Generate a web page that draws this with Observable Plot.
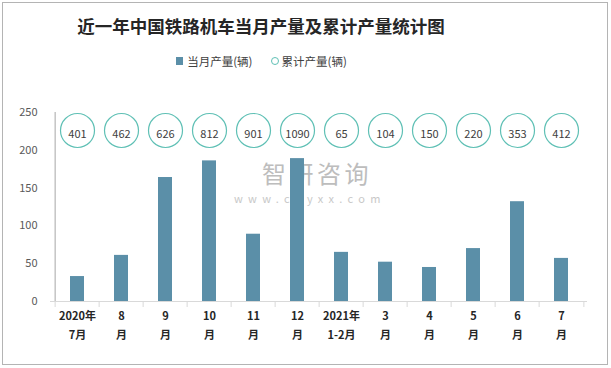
<!DOCTYPE html>
<html><head><meta charset="utf-8">
<script src="https://cdn.jsdelivr.net/npm/d3@7"></script>
<script src="https://cdn.jsdelivr.net/npm/@observablehq/plot@0.6"></script>
<style>
body{margin:0;background:#fff;font-family:"Noto Sans CJK SC","Noto Sans",sans-serif;}
#wrap{position:relative;width:611px;height:368px;overflow:hidden;background:#fff;}
#border{position:absolute;left:2px;top:2px;width:604px;height:361px;border:1px solid #b4b4b4;}
#title{position:absolute;left:0;width:522px;top:13px;text-align:center;font-size:17.5px;font-weight:bold;color:#262626;line-height:26px;white-space:nowrap;}
#legend{position:absolute;left:0;width:523px;top:52px;display:flex;justify-content:center;align-items:center;font-size:11.5px;color:#404040;line-height:18px;}
.sw{display:inline-block;width:7px;height:8px;background:#5b8fa8;margin-right:4px;}
.cw{display:inline-block;width:6px;height:6px;border:1.2px solid #5fc0b5;border-radius:50%;margin-right:3px;margin-left:18px;}
#chart{position:absolute;left:0;top:75px;}
#wm{position:absolute;left:262px;top:162px;color:#bdbdbd;font-size:24px;letter-spacing:3.5px;line-height:22px;}
#wm2{position:absolute;left:234px;top:193px;color:#c8c8c8;font-size:11px;letter-spacing:5.3px;line-height:11px;}
</style></head>
<body>
<div id="wrap">
<div id="border"></div>
<div id="title">近一年中国铁路机车当月产量及累计产量统计图</div>
<div id="legend"><span class="sw"></span><span>当月产量(辆)</span><span class="cw"></span><span>累计产量(辆)</span></div>
<div id="wm">智研咨询</div>
<div id="wm2">www.chyxx.com</div>
<div id="chart"></div>
</div>
<script>
const months = ["2020年\n7月","8\n月","9\n月","10\n月","11\n月","12\n月","2021年\n1-2月","3\n月","4\n月","5\n月","6\n月","7\n月"];
const monthly = [33,61,164,186,89,189,65,52,45,70,132,57];
const cumulative = [401,462,626,812,901,1090,65,104,150,220,353,412];
const yTicks = [0,50,100,150,200,250];

const data = months.map((m,i)=>({month:m, monthly:monthly[i], cumulative:cumulative[i]}));
const W = 611, H = 293, mL = 50, mR = 24;
const bw = (W - mL - mR) / months.length;
const font = '"Noto Sans CJK SC","Noto Sans",sans-serif';

const chart = Plot.plot({
  width: W, height: H,
  marginLeft: mL, marginRight: mR, marginTop: 37, marginBottom: 67,
  style: {fontFamily: font, background: "transparent"},
  x: {domain: months, paddingInner: 0.687, paddingOuter: 0.3435, axis: null},
  y: {domain: [0,250], ticks: yTicks, axis: null},
  marks: [
    Plot.axisY({ticks: yTicks, tickSize: 0, tickPadding: 13, fontSize: 11, color: "#595959", label: null}),
    Plot.barY(data, {x: "month", y: "monthly", fill: "#5b8fa8"}),
    Plot.ruleY([0], {stroke: "#d9d9d9", strokeWidth: 1}),
    Plot.ruleX(data, {x: "month", y1: 0, y2: 0, insetBottom: -6, dx: -bw/2, stroke: "#d9d9d9"}),
    Plot.ruleX(data.slice(-1), {x: "month", y1: 0, y2: 0, insetBottom: -6, dx: bw/2, stroke: "#d9d9d9"}),
    Plot.ruleX(data.slice(0,1), {x: "month", y1: 0, y2: 250, dx: -bw/2, stroke: "#a6a6a6"}),
    Plot.dot(data, {x: "month", frameAnchor: "top", dy: 18, r: 17, fill: "white", stroke: "#5fc0b5", strokeWidth: 1.2}),
    Plot.text(data, {x: "month", frameAnchor: "top", dy: 18, text: d => String(d.cumulative), fontSize: 11, fill: "#404040"}),
    Plot.text(data, {x: "month", frameAnchor: "bottom", dy: 37, text: "month", lineHeight: 1.7, fontSize: 11, fontWeight: "bold", fill: "#262626"})
  ]
});
document.getElementById("chart").appendChild(chart);
</script>
</body></html>
